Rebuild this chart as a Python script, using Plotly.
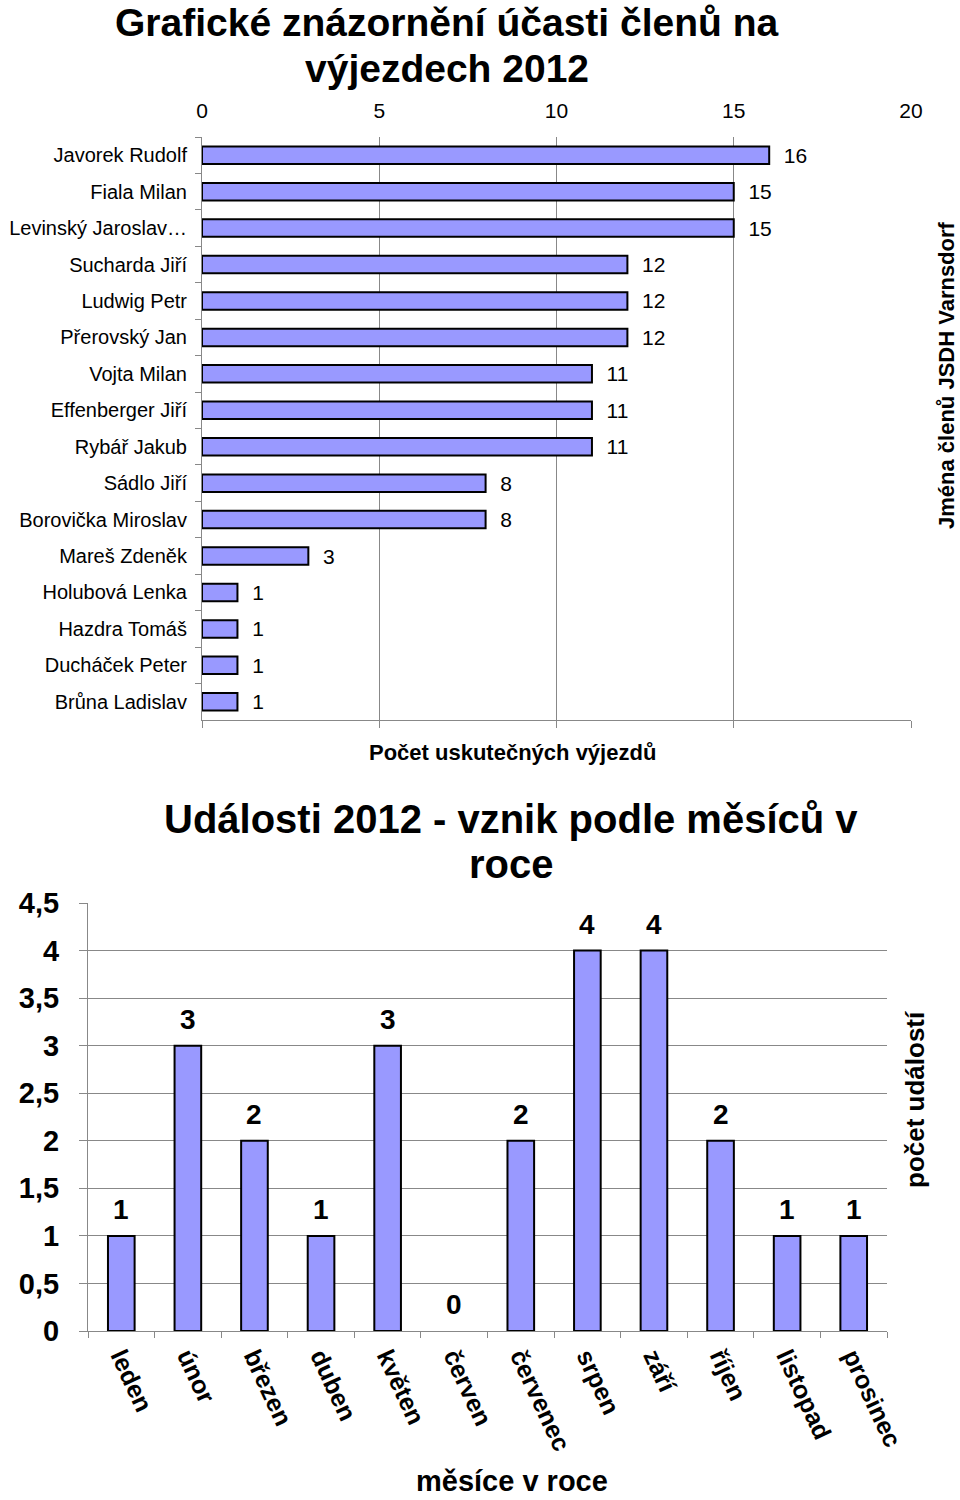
import plotly.graph_objects as go

# ---- data: chart 1 ----
members = ["Javorek Rudolf", "Fiala Milan", "Levinský Jaroslav…", "Sucharda Jiří",
           "Ludwig Petr", "Přerovský Jan", "Vojta Milan", "Effenberger Jiří",
           "Rybář Jakub", "Sádlo Jiří", "Borovička Miroslav", "Mareš Zdeněk",
           "Holubová Lenka", "Hazdra Tomáš", "Ducháček Peter", "Brůna Ladislav"]
trips = [16, 15, 15, 12, 12, 12, 11, 11, 11, 8, 8, 3, 1, 1, 1, 1]
x_ticks = [0, 5, 10, 15, 20]

# ---- data: chart 2 ----
months = ["leden", "únor", "březen", "duben", "květen", "červen", "červenec",
          "srpen", "září", "říjen", "listopad", "prosinec"]
events = [1, 3, 2, 1, 3, 0, 2, 4, 4, 2, 1, 1]
y_ticks = [0, 0.5, 1, 1.5, 2, 2.5, 3, 3.5, 4, 4.5]

FONT = "Liberation Sans, Arial, sans-serif"
BAR = "#9999FF"
GRID = "#888888"
W, H = 960, 1500

def px_y(py):
    return 1 - py / H

def px_x(px):
    return px / W

fig = go.Figure()

fig.add_trace(go.Bar(
    x=trips, y=members, orientation="h", width=0.48,
    marker=dict(color=BAR, line=dict(color="black", width=2)),
    text=trips, texttemplate="\u00a0\u00a0%{x}", textposition="outside",
    constraintext="none",
    textfont=dict(family=FONT, size=21, color="black"),
    cliponaxis=False, xaxis="x", yaxis="y", showlegend=False,
))

fig.add_trace(go.Bar(
    x=months, y=events, width=0.4,
    marker=dict(color=BAR, line=dict(color="black",
                                     width=[2 if v > 0 else 0 for v in events])),
    xaxis="x3", yaxis="y3", showlegend=False, cliponaxis=False,
))

annotations = []
for m, v in zip(months, events):
    annotations.append(dict(
        x=m, y=v, xref="x3", yref="y3", text=str(v), showarrow=False,
        yanchor="bottom", yshift=9,
        font=dict(family=FONT, size=28, color="black", weight="bold"),
    ))

def txt(text, x, y, size, bold=True, angle=0):
    annotations.append(dict(
        x=px_x(x), y=px_y(y), xref="paper", yref="paper", text=text,
        showarrow=False, xanchor="center", yanchor="middle", textangle=angle,
        font=dict(family=FONT, size=size, color="black",
                  weight="bold" if bold else "normal"),
    ))

txt("Grafické znázornění účasti členů na", 447, 23, 39)
txt("výjezdech 2012", 447, 68, 39)
txt("Počet uskutečných výjezdů", 512, 752, 22)
txt("Jména členů JSDH Varnsdorf", 946, 375, 22, angle=-90)
txt("Události 2012 - vznik podle měsíců v", 511, 819, 40)
txt("roce", 511, 864, 40)
txt("měsíce v roce", 512, 1481, 29)
txt("počet událostí", 915, 1100, 26, angle=-90)

top_dom_x = [px_x(202), px_x(911)]
top_dom_y = [px_y(720), px_y(137)]
bot_dom_x = [px_x(88), px_x(887)]
bot_dom_y = [px_y(1331), px_y(903)]

fig.update_layout(
    width=W, height=H, autosize=False,
    margin=dict(l=0, r=0, t=0, b=0, pad=0),
    paper_bgcolor="white", plot_bgcolor="white",
    separators=", ",
    font=dict(family=FONT, color="black"),
    annotations=annotations,
    xaxis=dict(
        domain=top_dom_x, anchor="y", side="top", range=[0, 20],
        tickvals=x_ticks, showgrid=True, gridcolor=GRID, gridwidth=1,
        zeroline=False, showline=False, ticks="", ticklabelstandoff=14,
        automargin=False,
        tickfont=dict(family=FONT, size=21, color="black"),
    ),
    xaxis2=dict(
        domain=top_dom_x, anchor="y", overlaying="x", side="bottom",
        range=[0, 20], tickvals=x_ticks, showgrid=False, zeroline=False,
        showline=True, linecolor=GRID, linewidth=1, ticks="outside",
        ticklen=7, tickcolor=GRID, showticklabels=False, automargin=False,
    ),
    yaxis=dict(
        domain=top_dom_y, anchor="x", autorange="reversed",
        categoryorder="array", categoryarray=members,
        showline=True, linecolor=GRID, linewidth=1, ticks="outside",
        tickson="boundaries", ticklen=6, tickcolor=GRID, showgrid=False,
        ticklabelstandoff=10, automargin=False,
        tickfont=dict(family=FONT, size=20, color="black"),
    ),
    xaxis3=dict(
        domain=bot_dom_x, anchor="y3", categoryorder="array",
        categoryarray=months, showline=True, linecolor=GRID, linewidth=1,
        ticks="outside", tickson="boundaries", ticklen=6, tickcolor=GRID,
        tickangle=65, showgrid=False, automargin=False,
        tickfont=dict(family=FONT, size=25, color="black", weight="bold"),
    ),
    yaxis3=dict(
        domain=bot_dom_y, anchor="x3", range=[0, 4.5], tickvals=y_ticks,
        showgrid=True, gridcolor=GRID, gridwidth=1, zeroline=False,
        showline=True, linecolor=GRID, linewidth=1, ticks="outside",
        ticklen=8, tickcolor=GRID, ticklabelstandoff=14, automargin=False,
        tickfont=dict(family=FONT, size=29, color="black", weight="bold"),
    ),
)

# invisible trace to activate the bottom frame axis of the first chart
fig.add_trace(go.Scatter(x=[None], y=[None], xaxis="x2", yaxis="y",
                         showlegend=False, hoverinfo="skip"))

fig.write_html("out.html")
